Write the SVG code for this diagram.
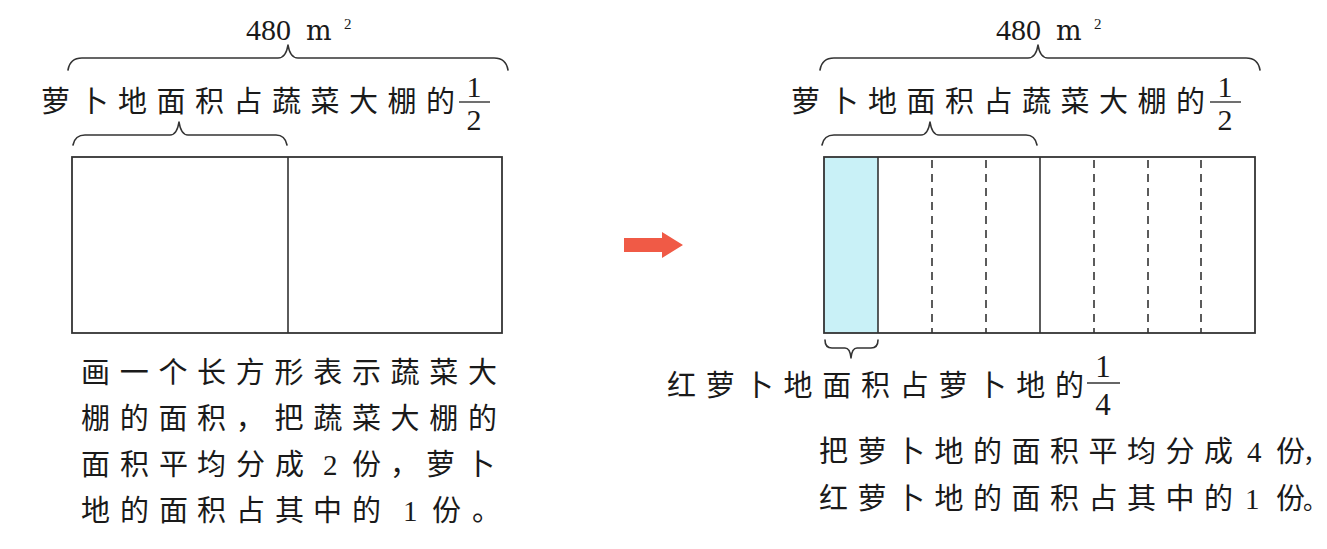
<svg xmlns="http://www.w3.org/2000/svg" width="1327" height="549" viewBox="0 0 1327 549">
<style>
.cjk{font-family:"Noto Sans CJK SC","Noto Sans CJK JP",sans-serif;font-size:29px;fill:#1a1a1a;letter-spacing:9.5px}
.num{font-family:"Liberation Serif",serif;fill:#1a1a1a}
.unit{font-family:"DejaVu Serif","Liberation Serif",serif;fill:#1a1a1a}
.brace{fill:none;stroke:#333;stroke-width:1.6;stroke-linejoin:round;stroke-linecap:round}
.box{fill:none;stroke:#333;stroke-width:1.8}
.solid{stroke:#333;stroke-width:1.6}
.dash{stroke:#333;stroke-width:1.6;stroke-dasharray:8 6}
.bar{stroke:#333;stroke-width:1.4}
</style>
<rect width="1327" height="549" fill="#fff"/>

<g id="left-diagram">
  <text class="num" x="246" y="40" font-size="30">480</text>
  <text class="unit" x="306" y="40" font-size="27">m</text>
  <text class="num" x="344" y="29" font-size="15">2</text>
  <path class="brace" d="M68,70 Q70,58 82,58 L278,58 Q286,58 288,45 Q290,58 298,58 L494,58 Q506,58 508,70"/>
  <text class="cjk" x="41" y="112">萝卜地面积占蔬菜大棚的</text>
  <text class="num" x="474" y="97" font-size="30" text-anchor="middle">1</text>
  <line class="bar" x1="459" y1="102" x2="490" y2="102"/>
  <text class="num" x="474" y="130" font-size="30" text-anchor="middle">2</text>
  <path class="brace" d="M73,145 Q75,135 85,135 L170,135 Q177,135 179,122 Q181,135 188,135 L276,135 Q285,135 287,145"/>
  <rect class="box" x="72" y="157" width="430" height="176"/>
  <line class="solid" x1="288" y1="157" x2="288" y2="333"/>
</g>

<g id="left-caption">
  <text class="cjk" x="81" y="383" style="letter-spacing:9.7px">画一个长方形表示蔬菜大</text>
  <text class="cjk" x="81" y="429" style="letter-spacing:9.7px">棚的面积，把蔬菜大棚的</text>
  <text class="cjk" y="475" style="letter-spacing:0"><tspan x="81">面</tspan><tspan x="120">积</tspan><tspan x="159">平</tspan><tspan x="197">均</tspan><tspan x="236">分</tspan><tspan x="275">成</tspan><tspan x="323" class="num" font-size="29">2</tspan><tspan x="352">份</tspan><tspan x="390">，</tspan><tspan x="426">萝</tspan><tspan x="466">卜</tspan></text>
  <text class="cjk" y="521" style="letter-spacing:0"><tspan x="81">地</tspan><tspan x="120">的</tspan><tspan x="159">面</tspan><tspan x="197">积</tspan><tspan x="236">占</tspan><tspan x="275">其</tspan><tspan x="313">中</tspan><tspan x="352">的</tspan><tspan x="403" class="num" font-size="29">1</tspan><tspan x="432">份</tspan><tspan x="472">。</tspan></text>
</g>

<g id="arrow">
  <path d="M624,238 L662,238 L662,232 L683,245 L662,258 L662,252 L624,252 Z" fill="#f05a46"/>
</g>

<g id="right-diagram">
  <text class="num" x="996" y="40" font-size="30">480</text>
  <text class="unit" x="1056" y="40" font-size="27">m</text>
  <text class="num" x="1094" y="29" font-size="15">2</text>
  <path class="brace" d="M820,70 Q822,58 834,58 L1028,58 Q1036,58 1038,45 Q1040,58 1048,58 L1246,58 Q1258,58 1260,70"/>
  <text class="cjk" x="791" y="112">萝卜地面积占蔬菜大棚的</text>
  <text class="num" x="1225" y="97" font-size="30" text-anchor="middle">1</text>
  <line class="bar" x1="1210" y1="102" x2="1241" y2="102"/>
  <text class="num" x="1225" y="130" font-size="30" text-anchor="middle">2</text>
  <path class="brace" d="M822,145 Q824,135 834,135 L921,135 Q928,135 930,122 Q932,135 939,135 L1026,135 Q1035,135 1037,145"/>
  <rect x="824" y="157" width="54" height="176" fill="#c9f1f7"/>
  <rect class="box" x="824" y="157" width="431" height="176"/>
  <line class="solid" x1="878" y1="157" x2="878" y2="333"/>
  <line class="dash" x1="932" y1="160" x2="932" y2="333"/>
  <line class="dash" x1="986" y1="160" x2="986" y2="333"/>
  <line class="solid" x1="1040" y1="157" x2="1040" y2="333"/>
  <line class="dash" x1="1094" y1="160" x2="1094" y2="333"/>
  <line class="dash" x1="1148" y1="160" x2="1148" y2="333"/>
  <line class="dash" x1="1201" y1="160" x2="1201" y2="333"/>
  <path class="brace" d="M825,340 Q825,348 832,348 L845,348 Q850,348 851,358 Q852,348 857,348 L871,348 Q878,348 878,340"/>
  <text class="cjk" x="667" y="396" style="letter-spacing:9.8px">红萝卜地面积占萝卜地的</text>
  <text class="num" x="1103" y="377" font-size="31" text-anchor="middle">1</text>
  <line class="bar" x1="1087" y1="383" x2="1120" y2="383"/>
  <text class="num" x="1103" y="415" font-size="31" text-anchor="middle">4</text>
</g>

<g id="right-caption">
  <text class="cjk" y="462"><tspan x="819">把萝卜地的面积平均分成</tspan><tspan x="1247" class="num" font-size="29" style="letter-spacing:0">4</tspan><tspan x="1276" style="letter-spacing:0">份</tspan><tspan x="1303" font-size="24" style="letter-spacing:0">，</tspan></text>
  <text class="cjk" y="509"><tspan x="819">红萝卜地的面积占其中的</tspan><tspan x="1245" class="num" font-size="29" style="letter-spacing:0">1</tspan><tspan x="1276" style="letter-spacing:0">份</tspan><tspan x="1303" font-size="24" style="letter-spacing:0">。</tspan></text>
</g>
</svg>
